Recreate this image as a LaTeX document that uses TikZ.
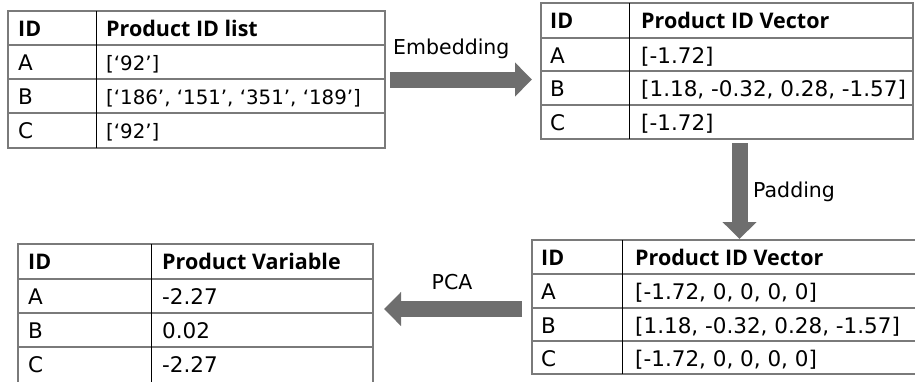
\documentclass[tikz,border=0pt]{standalone}
\usepackage{fontspec}
\setmainfont{DejaVu Sans}
\newfontfamily\headfont{Open Sans}
\usetikzlibrary{arrows.meta}
\definecolor{arrowgray}{HTML}{6E6E6E}
\definecolor{rulegray}{HTML}{7A7A7A}

\begin{document}
\begin{tikzpicture}[x=1pt,y=-1pt,
    cell/.style={anchor=base west,inner sep=0pt,font=\fontsize{21.5}{25}\selectfont},
    listcell/.style={cell,font=\fontsize{19.8}{24}\selectfont},
    head/.style={cell,font=\fontsize{21.5}{25}\selectfont\headfont\bfseries},
    arrowtext/.style={cell,font=\fontsize{20.5}{24}\selectfont},
    tablerule/.style={draw=rulegray,line width=1.2pt},
    divider/.style={draw=black,line width=0.9pt},
    blockarrow/.style={draw=arrowgray,line width=16pt,-{Triangle[width=33pt,length=17pt]}}]
\useasboundingbox (0,0) rectangle (915,381);
% product id list
\draw[tablerule] (8,11) rectangle (385,148);
\draw[tablerule] (8,45) -- (385,45) (8,79) -- (385,79) (8,113) -- (385,113);
\draw[divider] (96,11) -- (96,148);
\node[head] (list-id) at (18,36.5) {ID};
\node[head] (list-h) at (106,36.5) {Product ID list};
\node[cell] (list-a) at (18,70.7) {A};
\node[listcell] (list-av) at (106,70.7) {[‘92’]};
\node[cell] (list-b) at (18,104.7) {B};
\node[listcell] (list-bv) at (106,104.7) {[‘186’, ‘151’, ‘351’, ‘189’]};
\node[cell] (list-c) at (18,138.7) {C};
\node[listcell] (list-cv) at (106,138.7) {[‘92’]};
% embedded vectors
\draw[tablerule] (541,3) rectangle (913,139);
\draw[tablerule] (541,38) -- (913,38) (541,71) -- (913,71) (541,105) -- (913,105);
\draw[divider] (629,3) -- (629,139);
\node[head] (emb-id) at (550,28.5) {ID};
\node[head] (emb-h) at (641,28.5) {Product ID Vector};
\node[cell] (emb-a) at (550,63.5) {A};
\node[cell] (emb-av) at (641,63.5) {[-1.72]};
\node[cell] (emb-b) at (550,96.7) {B};
\node[cell] (emb-bv) at (641,96.7) {[1.18, -0.32, 0.28, -1.57]};
\node[cell] (emb-c) at (550,130.7) {C};
\node[cell] (emb-cv) at (641,130.7) {[-1.72]};
% padded vectors
\draw[tablerule] (918,240) -- (532,240) -- (532,374) -- (918,374);
\draw[tablerule] (532,274) -- (918,274) (532,308) -- (918,308) (532,341) -- (918,341);
\draw[divider] (622,240) -- (622,374);
\node[head] (pad-id) at (541,265.5) {ID};
\node[head] (pad-h) at (635,265.5) {Product ID Vector};
\node[cell] (pad-a) at (541,299.7) {A};
\node[cell] (pad-av) at (635,299.7) {[-1.72, 0, 0, 0, 0]};
\node[cell] (pad-b) at (541,333.5) {B};
\node[cell] (pad-bv) at (635,333.5) {[1.18, -0.32, 0.28, -1.57]};
\node[cell] (pad-c) at (541,366.7) {C};
\node[cell] (pad-cv) at (635,366.7) {[-1.72, 0, 0, 0, 0]};
% pca result
\draw[tablerule] (18,383) -- (18,244) -- (373,244) -- (373,383);
\draw[tablerule] (18,279) -- (373,279) (18,313) -- (373,313) (18,347) -- (373,347);
\draw[divider] (151,244) -- (151,383);
\node[head] (pca-id) at (28,269.5) {ID};
\node[head] (pca-h) at (162,269.5) {Product Variable};
\node[cell] (pca-a) at (28,304.7) {A};
\node[cell] (pca-av) at (162,304.7) {-2.27};
\node[cell] (pca-b) at (28,338.7) {B};
\node[cell] (pca-bv) at (162,338.7) {0.02};
\node[cell] (pca-c) at (28,372.7) {C};
\node[cell] (pca-cv) at (162,372.7) {-2.27};
% arrows
\coordinate (embed-s) at (390,79.5);
\coordinate (embed-e) at (532,79.5);
\coordinate (padding-s) at (739.5,143);
\coordinate (padding-e) at (739.5,239);
\coordinate (pcastep-s) at (522,309);
\coordinate (pcastep-e) at (384,309);
\draw[blockarrow] (embed-s) -- (embed-e);
\draw[blockarrow] (padding-s) -- (padding-e);
\draw[blockarrow] (pcastep-s) -- (pcastep-e);
\node[arrowtext] (embed-t) at (393,54) {Embedding};
\node[arrowtext] (padding-t) at (753,197) {Padding};
\node[arrowtext,anchor=base] (pcastep-t) at (452,289.3) {PCA};
\end{tikzpicture}
\end{document}
